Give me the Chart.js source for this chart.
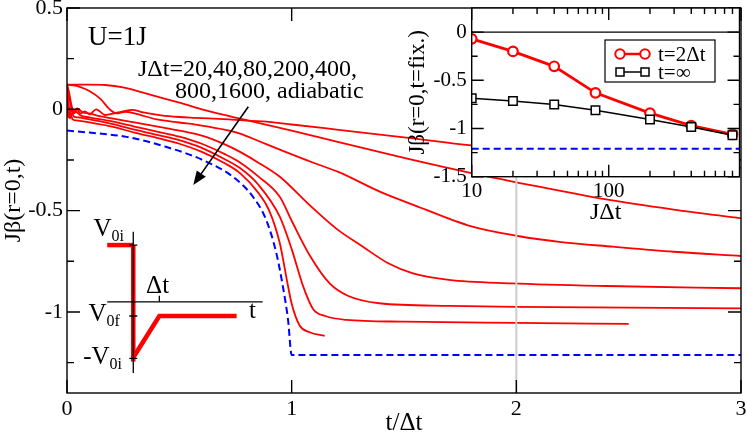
<!DOCTYPE html>
<html>
<head>
<meta charset="utf-8">
<title>Jβ(r=0,t)</title>
<script src="https://cdn.jsdelivr.net/npm/chart.js@4.4.1/dist/chart.umd.min.js"></script>
<style>
  body { margin: 0; background: #fff; }
  #wrap { position: relative; width: 747px; height: 438px; }
  canvas { position: absolute; top: 0; }
  #main { left: 0; }
  #inset { left: 400px; }
</style>
</head>
<body>
<div id="wrap">
  <canvas id="main" width="747" height="438"></canvas>
  <canvas id="inset" width="347" height="230"></canvas>
</div>
<script>
// ---- main panel: Jβ(r=0,t) vs t/Δt, one curve per JΔt ----
const jdt20 = [[0,0.122],[0.01,0.06],[0.02,0.0],[0.03,-0.02],[0.045,0.0],[0.06,-0.02],[0.08,-0.01],[0.1,-0.025],
  [0.13,0.0],[0.17,-0.028],[0.21,-0.02],[0.25,-0.01],[0.29,-0.003],[0.34,-0.015],[0.42,-0.03],[0.5,-0.038],
  [0.57,-0.042],[0.72,-0.05],[0.87,-0.06],[1.0,-0.075],[1.2,-0.1],[1.5,-0.138],[1.8,-0.178],[2.2,-0.22],[2.6,-0.26],[3,-0.29]];
const jdt40 = [[0,0.122],[0.05,0.122],[0.1,0.122],[0.17,0.12],[0.25,0.108],[0.35,0.079],[0.45,0.048],[0.5,0.033],
  [0.6,0.0],[0.7,-0.028],[0.77,-0.046],[0.87,-0.072],[1.0,-0.105],[1.2,-0.16],[1.5,-0.24],[1.8,-0.315],[2.0,-0.36],
  [2.4,-0.445],[2.7,-0.495],[3,-0.538]];
const jdt80 = [[0,0.122],[0.03,0.118],[0.06,0.11],[0.1,0.09],[0.15,0.05],[0.19,0.0],[0.22,-0.02],[0.26,-0.012],
  [0.3,-0.02],[0.4,-0.05],[0.5,-0.065],[0.6,-0.08],[0.7,-0.1],[0.77,-0.12],[0.85,-0.155],[0.95,-0.2],[1.1,-0.265],
  [1.21,-0.31],[1.4,-0.41],[1.55,-0.475],[1.8,-0.578],[2.0,-0.624],[2.2,-0.655],[2.43,-0.678],[2.7,-0.703],[3,-0.724]];
const jdt200 = [[0,0.122],[0.01,0.08],[0.02,0.02],[0.03,-0.01],[0.045,0.005],[0.07,-0.015],[0.1,-0.02],[0.13,-0.03],
  [0.2,-0.045],[0.3,-0.065],[0.41,-0.087],[0.5,-0.105],[0.6,-0.13],[0.7,-0.172],[0.77,-0.21],[0.85,-0.262],[0.95,-0.335],
  [1.08,-0.473],[1.2,-0.59],[1.317,-0.678],[1.43,-0.76],[1.54,-0.81],[1.7,-0.842],[1.98,-0.859],[2.4,-0.872],[3,-0.883]];
const jdt400 = [[0,0.122],[0.005,0.05],[0.01,0.0],[0.015,-0.02],[0.02,0.0],[0.03,-0.02],[0.04,-0.012],[0.06,-0.03],
  [0.1,-0.04],[0.2,-0.06],[0.3,-0.085],[0.41,-0.112],[0.5,-0.135],[0.6,-0.17],[0.7,-0.22],[0.77,-0.262],[0.85,-0.33],
  [0.947,-0.432],[1.0,-0.55],[1.08,-0.72],[1.169,-0.859],[1.25,-0.92],[1.39,-0.957],[1.7,-0.97],[2.0,-0.975],[3,-0.982]];
const jdt800 = [[0,0.122],[0.004,0.03],[0.008,-0.02],[0.012,0.0],[0.016,-0.03],[0.022,-0.02],[0.03,-0.035],[0.05,-0.04],
  [0.1,-0.05],[0.2,-0.072],[0.3,-0.1],[0.41,-0.128],[0.5,-0.152],[0.6,-0.19],[0.7,-0.245],[0.77,-0.29],[0.85,-0.37],
  [0.947,-0.53],[1.0,-0.69],[1.05,-0.87],[1.095,-0.985],[1.15,-1.02],[1.243,-1.039],[1.5,-1.048],[2.0,-1.054],[2.5,-1.059]];
const jdt1600 = [[0,0.122],[0.003,0.0],[0.006,-0.04],[0.009,-0.01],[0.013,-0.045],[0.018,-0.03],[0.025,-0.05],[0.04,-0.055],
  [0.1,-0.065],[0.2,-0.085],[0.3,-0.115],[0.41,-0.144],[0.5,-0.17],[0.6,-0.21],[0.7,-0.265],[0.77,-0.315],[0.85,-0.41],
  [0.9,-0.5],[0.947,-0.66],[0.98,-0.85],[1.0,-0.96],[1.036,-1.068],[1.08,-1.1],[1.147,-1.118]];
const adiabatic = [[0,-0.105],[0.1,-0.115],[0.265,-0.136],[0.443,-0.186],[0.606,-0.251],[0.739,-0.333],[0.828,-0.432],
  [0.887,-0.547],[0.932,-0.711],[0.961,-0.875],[0.984,-1.04],[1.0,-1.212],[3,-1.212]];
const markLine = [[2,-1.4],[2,-0.335]];   // grey t=2Δt marker

const mainXTicks = [0, 1, 2, 3];
const mainYTicks = [0.5, 0, -0.5, -1];
const mainYMinor = [0.25, -0.25, -0.75, -1.25];

// ---- inset: Jβ(r=0, t=fix.) vs JΔt ----
const insetDt = [10, 20, 40, 80, 200, 400, 800];
const beta2dt = [-0.07, -0.20, -0.355, -0.63, -0.84, -0.97, -1.06];
const betaInf = [-0.687, -0.714, -0.75, -0.81, -0.907, -0.985, -1.07];
const betaAdiab = -1.21;
const insetXTicks = [10, 100];
const insetXMinor = [20, 30, 40, 50, 60, 70, 80, 90, 200, 300, 400, 500, 600, 700, 800];
const insetYTicks = [0, -0.5, -1, -1.5];
const insetYMinor = [-0.25, -0.75, -1.25];

const RED = '#ff0000', BLUE = '#0000ff';
const SERIF = "'Liberation Serif', 'DejaVu Serif', serif";
const pts = arr => arr.map(p => ({ x: p[0], y: p[1] }));
const num = v => String(+Number(v).toFixed(2));

// inward ticks on all four sides + frame
const frameTicks = {
  id: 'frameTicks',
  afterDatasetsDraw(chart, args, o) {
    const { ctx, chartArea: a, scales: { x, y } } = chart;
    ctx.save();
    ctx.strokeStyle = '#000';
    ctx.lineWidth = 1.4;
    ctx.beginPath();
    const xt = (vals, len) => vals.forEach(v => {
      const p = x.getPixelForValue(v);
      ctx.moveTo(p, a.bottom); ctx.lineTo(p, a.bottom - len);
      ctx.moveTo(p, a.top); ctx.lineTo(p, a.top + len);
    });
    const yt = (vals, len) => vals.forEach(v => {
      const p = y.getPixelForValue(v);
      ctx.moveTo(a.left, p); ctx.lineTo(a.left + len, p);
      ctx.moveTo(a.right, p); ctx.lineTo(a.right - len, p);
    });
    xt(o.xMajor, o.major); xt(o.xMinor, o.minor);
    yt(o.yMajor, o.major); yt(o.yMinor, o.minor);
    ctx.stroke();
    ctx.strokeRect(a.left, a.top, a.right - a.left, a.bottom - a.top);
    ctx.restore();
  }
};

// text, arrow and the pulse sketch inside the main panel
const mainNotes = {
  id: 'mainNotes',
  afterDatasetsDraw(chart) {
    const { ctx, chartArea: area, scales: { x, y } } = chart;
    const P = (a, b) => [x.getPixelForValue(a), y.getPixelForValue(b)];
    const poly = (list, w, c) => {
      ctx.beginPath();
      list.forEach((p, i) => { const q = P(p[0], p[1]); i ? ctx.lineTo(q[0], q[1]) : ctx.moveTo(q[0], q[1]); });
      ctx.lineWidth = w; ctx.strokeStyle = c; ctx.stroke();
    };
    const sub = (main, low, a, b, big, small) => {
      const q = P(a, b);
      ctx.font = big + 'px ' + SERIF;
      ctx.fillText(main, q[0], q[1]);
      const w = ctx.measureText(main).width;
      ctx.font = small + 'px ' + SERIF;
      ctx.fillText(low, q[0] + w, q[1] + 5);
    };
    ctx.save();
    ctx.fillStyle = '#000';
    ctx.textAlign = 'left';
    ctx.textBaseline = 'alphabetic';

    ctx.font = '27px ' + SERIF;
    let q = P(0.0935, 0.317); ctx.fillText('U=1J', q[0], q[1]);
    ctx.font = '24px ' + SERIF;
    q = P(0.316, 0.164); ctx.fillText('JΔt=20,40,80,200,400,', q[0], q[1]);
    q = P(0.481, 0.056); ctx.fillText('800,1600, adiabatic', q[0], q[1]);

    // arrow
    const a0 = P(0.807, 0.013), a1 = P(0.562, -0.374);
    const ang = Math.atan2(a1[1] - a0[1], a1[0] - a0[0]);
    ctx.beginPath(); ctx.moveTo(a0[0], a0[1]);
    ctx.lineTo(a1[0] - 10 * Math.cos(ang), a1[1] - 10 * Math.sin(ang));
    ctx.lineWidth = 1.6; ctx.strokeStyle = '#000'; ctx.stroke();
    ctx.beginPath(); ctx.moveTo(a1[0], a1[1]);
    ctx.lineTo(a1[0] - 14 * Math.cos(ang) + 5.5 * Math.sin(ang), a1[1] - 14 * Math.sin(ang) - 5.5 * Math.cos(ang));
    ctx.lineTo(a1[0] - 14 * Math.cos(ang) - 5.5 * Math.sin(ang), a1[1] - 14 * Math.sin(ang) + 5.5 * Math.cos(ang));
    ctx.closePath(); ctx.fill();

    // pulse V0(t) sketch
    poly([[0.179, -0.670], [0.295, -0.670]], 4.5, RED);
    poly([[0.295, -0.670], [0.295, -1.245]], 4.5, RED);
    poly([[0.295, -1.225], [0.411, -1.020], [0.755, -1.020]], 4.5, RED);
    poly([[0.295, -0.604], [0.295, -1.301]], 1.3, '#000');
    poly([[0.179, -0.950], [0.871, -0.950]], 1.3, '#000');
    ctx.beginPath();
    [-0.670, -1.020, -1.229].forEach(v => { const p = P(0.295, v); ctx.moveTo(p[0] - 4, p[1]); ctx.lineTo(p[0] + 4, p[1]); });
    const d = P(0.411, -0.950); ctx.moveTo(d[0], d[1]); ctx.lineTo(d[0], d[1] - 6);
    ctx.lineWidth = 1.3; ctx.stroke();

    sub('V', '0i', 0.118, -0.625, 25, 16);
    sub('V', '0f', 0.096, -1.045, 25, 16);
    sub('-V', '0i', 0.072, -1.257, 25, 16);
    ctx.font = '25px ' + SERIF;
    q = P(0.352, -0.907); ctx.fillText('Δt', q[0], q[1]);
    q = P(0.810, -1.030); ctx.fillText('t', q[0], q[1]);

    // y axis title, centred on the axis
    ctx.translate(14, (area.top + area.bottom) / 2);
    ctx.rotate(-Math.PI / 2);
    ctx.textAlign = 'center'; ctx.textBaseline = 'middle';
    ctx.font = '24px ' + SERIF;
    ctx.fillText('Jβ(r=0,t)', 0, 0);
    ctx.restore();
  }
};

const redCurve = arr => ({
  data: pts(arr), borderColor: RED, borderWidth: 1.8, pointRadius: 0,
  cubicInterpolationMode: 'monotone', fill: false
});

new Chart(document.getElementById('main'), {
  type: 'line',
  data: {
    datasets: [
      { data: pts(markLine), borderColor: '#cccccc', borderWidth: 2, pointRadius: 0, tension: 0 },
      redCurve(jdt20), redCurve(jdt40), redCurve(jdt80), redCurve(jdt200),
      redCurve(jdt400), redCurve(jdt800), redCurve(jdt1600),
      { data: pts(adiabatic), borderColor: BLUE, borderWidth: 2, borderDash: [7, 4], pointRadius: 0,
        cubicInterpolationMode: 'monotone' }
    ]
  },
  options: {
    responsive: false,
    animation: false,
    layout: { padding: { top: 8, right: 6, left: 0, bottom: 0 } },
    plugins: {
      legend: { display: false },
      tooltip: { enabled: false },
      frameTicks: { xMajor: mainXTicks, xMinor: [], yMajor: mainYTicks, yMinor: mainYMinor, major: 13, minor: 7 }
    },
    scales: {
      x: {
        type: 'linear', min: 0, max: 3,
        afterBuildTicks: s => { s.ticks = mainXTicks.map(v => ({ value: v })); },
        afterFit: s => { s.height = 45; s.paddingLeft = 0; s.paddingRight = 0; },
        grid: { display: false, drawTicks: false }, border: { display: false },
        ticks: { color: '#000', font: { family: SERIF, size: 22 }, padding: 3, maxRotation: 0, callback: num },
        title: { display: true, text: 't/Δt', color: '#000', font: { family: SERIF, size: 25 }, padding: 0 }
      },
      y: {
        min: -1.4, max: 0.5,
        afterBuildTicks: s => { s.ticks = mainYTicks.map(v => ({ value: v })); },
        afterFit: s => { s.width = 67; s.paddingTop = 0; s.paddingBottom = 0; },
        grid: { display: false, drawTicks: false }, border: { display: false },
        ticks: { color: '#000', font: { family: SERIF, size: 22 }, padding: 4, callback: num }
      }
    }
  },
  plugins: [frameTicks, mainNotes]
});

// inset: white plot area, zero line, hand-drawn legend
const insetDecor = {
  id: 'insetDecor',
  beforeDraw(chart) {
    const { ctx, chartArea: a } = chart;
    ctx.save(); ctx.fillStyle = '#fff';
    ctx.fillRect(a.left, a.top, a.right - a.left, a.bottom - a.top);
    ctx.restore();
  },
  beforeDatasetsDraw(chart) {
    const { ctx, chartArea: a, scales: { y } } = chart;
    const p = y.getPixelForValue(0);
    ctx.save(); ctx.strokeStyle = '#000'; ctx.lineWidth = 1.2;
    ctx.beginPath(); ctx.moveTo(a.left, p); ctx.lineTo(a.right, p); ctx.stroke();
    ctx.restore();
  },
  afterDraw(chart) {
    const { ctx } = chart;
    ctx.save();
    ctx.fillStyle = '#fff'; ctx.strokeStyle = '#000'; ctx.lineWidth = 1.2;
    ctx.fillRect(205, 40, 110, 42); ctx.strokeRect(205, 40, 110, 42);
    // t=2Δt
    ctx.strokeStyle = RED; ctx.lineWidth = 2.5;
    ctx.beginPath(); ctx.moveTo(220, 54); ctx.lineTo(245, 54); ctx.stroke();
    ctx.lineWidth = 2;
    [220, 245].forEach(cx => { ctx.beginPath(); ctx.arc(cx, 54, 4.7, 0, 2 * Math.PI); ctx.fill(); ctx.stroke(); });
    // t=∞
    ctx.strokeStyle = '#000'; ctx.lineWidth = 1.5;
    ctx.beginPath(); ctx.moveTo(220, 72); ctx.lineTo(245, 72); ctx.stroke();
    [220, 245].forEach(cx => { ctx.fillRect(cx - 4, 68, 8, 8); ctx.strokeRect(cx - 4, 68, 8, 8); });
    ctx.fillStyle = '#000';
    ctx.font = '21px ' + SERIF; ctx.textBaseline = 'middle'; ctx.textAlign = 'left';
    ctx.fillText('t=2Δt', 258, 55);
    ctx.fillText('t=∞', 258, 73);
    ctx.restore();
  }
};

new Chart(document.getElementById('inset'), {
  type: 'line',
  data: {
    datasets: [
      { data: insetDt.map((v, i) => ({ x: v, y: betaInf[i] })), borderColor: '#000', borderWidth: 1.5,
        pointStyle: 'rect', pointRadius: 6, pointBorderWidth: 1.5, pointBackgroundColor: '#fff',
        pointBorderColor: '#000', tension: 0, order: 0 },
      { data: insetDt.map((v, i) => ({ x: v, y: beta2dt[i] })), borderColor: RED, borderWidth: 2.8,
        pointStyle: 'circle', pointRadius: 4.8, pointBorderWidth: 2.2, pointBackgroundColor: '#fff',
        pointBorderColor: RED, tension: 0, order: 1 },
      { data: [{ x: 10, y: betaAdiab }, { x: 900, y: betaAdiab }], borderColor: BLUE, borderWidth: 2,
        borderDash: [7, 4], pointRadius: 0, order: 2 }
    ]
  },
  options: {
    responsive: false,
    animation: false,
    layout: { padding: { top: 8, right: 6, left: 0, bottom: 0 } },
    plugins: {
      legend: { display: false },
      tooltip: { enabled: false },
      frameTicks: { xMajor: insetXTicks, xMinor: insetXMinor, yMajor: insetYTicks, yMinor: insetYMinor, major: 12, minor: 6 }
    },
    scales: {
      x: {
        type: 'logarithmic', min: 10, max: 900,
        afterBuildTicks: s => { s.ticks = insetXTicks.map(v => ({ value: v })); },
        afterFit: s => { s.height = 53.3; s.paddingLeft = 0; s.paddingRight = 0; },
        grid: { display: false, drawTicks: false }, border: { display: false },
        ticks: { color: '#000', font: { family: SERIF, size: 21 }, padding: 2, maxRotation: 0, callback: num },
        title: { display: true, text: 'JΔt', color: '#000', font: { family: SERIF, size: 24 }, padding: { bottom: 3 } }
      },
      y: {
        min: -1.5, max: 0.25,
        afterBuildTicks: s => { s.ticks = insetYTicks.map(v => ({ value: v })); },
        afterFit: s => { s.width = 71.7; s.paddingTop = 0; s.paddingBottom = 0; },
        grid: { display: false, drawTicks: false }, border: { display: false },
        ticks: { color: '#000', font: { family: SERIF, size: 21 }, padding: 5, callback: num },
        title: { display: true, text: 'Jβ(r=0,t=fix.)', color: '#000', font: { family: SERIF, size: 23 }, padding: { top: 4 } }
      }
    }
  },
  plugins: [insetDecor, frameTicks]
});
</script>
</body>
</html>
